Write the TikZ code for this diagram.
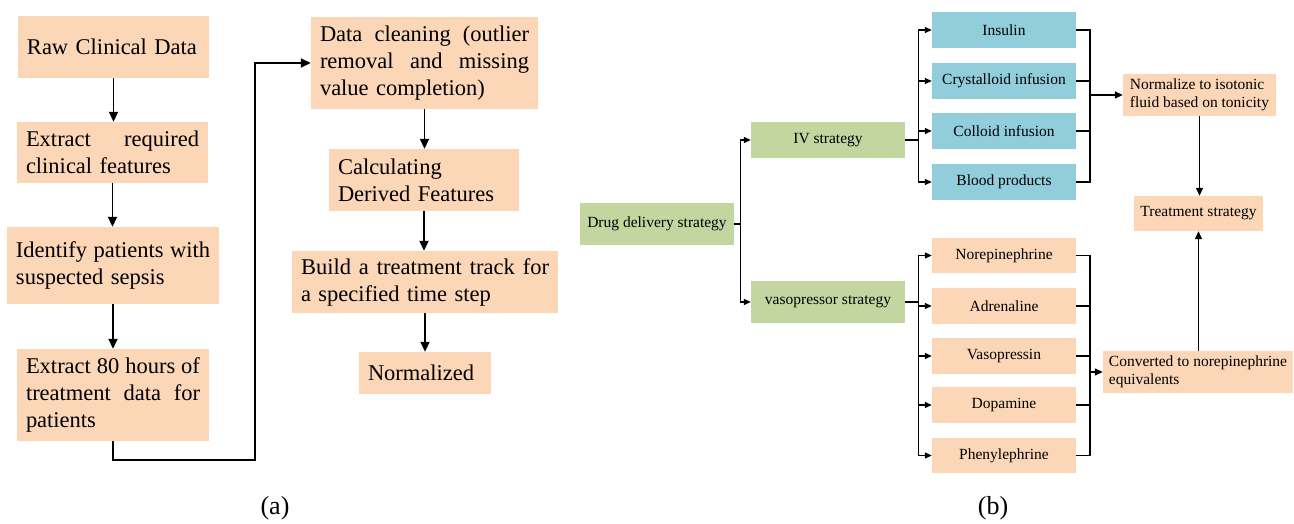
\documentclass[tikz,border=0pt]{standalone}
\usepackage{fontspec}
\setmainfont{Liberation Serif}
\usetikzlibrary{arrows.meta}
\definecolor{peach}{RGB}{251,214,183}
\definecolor{olive}{RGB}{195,214,160}
\definecolor{aqua}{RGB}{146,205,220}
\newcommand\lfont{\fontsize{22.5}{27}\selectfont}
\newcommand\rfont{\fontsize{15.5}{18}\selectfont}
\begin{document}
\begin{tikzpicture}[x=1pt,y=-1pt,
  lbox/.style={fill=peach, font=\lfont, align=left, inner xsep=9pt, inner ysep=0pt},
  rbox/.style={font=\rfont, inner sep=0pt, minimum width=144pt, align=center},
  larr/.style={line width=1.8pt, -{Triangle[length=10pt,width=9pt]}},
  rarr/.style={line width=1.3pt, -{Triangle[length=7pt,width=6pt]}},
  rline/.style={line width=1.3pt},
  rarrb/.style={line width=1.3pt, -{Triangle[length=8pt,width=7pt]}}]
\useasboundingbox (0,0) rectangle (1294,524);
% ---------- (a) ----------
\node[lbox, text width=173pt, minimum height=62pt] (raw) at (113.5,47) {Raw Clinical Data};
\node[lbox, text width=173pt, minimum height=61pt] (extr) at (112.5,152.5) {Extract\hfill required\\clinical features};
\node[lbox, text width=194pt, minimum height=77pt] (ident) at (113,265.5) {Identify\hfill patients\hfill with\\suspected sepsis};
\node[lbox, text width=174pt, minimum height=92pt] (ext80) at (113,395) {Extract\hfill 80\hfill hours\hfill of\\treatment\hfill data\hfill for\\patients};
\node[lbox, text width=209pt, minimum height=92pt] (clean) at (424.5,63) {Data\hfill cleaning\hfill (outlier\\removal\hfill and\hfill missing\\value completion)};
\node[lbox, text width=172pt, minimum height=62pt] (calc) at (424,180) {Calculating\\Derived Features};
\node[lbox, text width=248pt, minimum height=62pt] (build) at (425,282) {Build\hfill a\hfill treatment\hfill track\hfill for\\a specified time step};
\node[lbox, text width=114pt, minimum height=42pt] (norm) at (425,373) {Normalized};
\coordinate (turn) at (255,460);
\draw[larr] (raw.south) -- (raw.south |- extr.north);
\draw[larr] (extr.south) -- (extr.south |- ident.north);
\draw[larr] (ident.south) -- (ident.south |- ext80.north);
\draw[larr] (ext80.south) |- (turn) |- (clean.west);
\draw[larr] (clean.south) -- (clean.south |- calc.north);
\draw[larr] (calc.south) -- (calc.south |- build.north);
\draw[larr] (build.south) -- (build.south |- norm.north);
\node[font=\fontsize{26}{30}\selectfont] (la) at (275,508) {(a)};
% ---------- (b) ----------
\node[rbox, fill=olive, minimum width=154pt, minimum height=42pt] (drug) at (657,224) {Drug delivery strategy};
\node[rbox, fill=olive, minimum width=154pt, minimum height=36pt] (iv) at (828,140) {IV strategy};
\node[rbox, fill=olive, minimum width=154pt, minimum height=42pt] (vaso) at (828,302) {vasopressor strategy};
\node[rbox, fill=aqua, minimum height=36pt] (ins) at (1004,30) {Insulin};
\node[rbox, fill=aqua, minimum height=36pt] (cry) at (1004,81) {Crystalloid infusion};
\node[rbox, fill=aqua, minimum height=36pt] (col) at (1004,131) {Colloid infusion};
\node[rbox, fill=aqua, minimum height=36pt] (blo) at (1004,182) {Blood products};
\node[rbox, fill=peach, minimum height=35pt] (nor) at (1004,255.5) {Norepinephrine};
\node[rbox, fill=peach, minimum height=36pt] (adr) at (1004,306) {Adrenaline};
\node[rbox, fill=peach, minimum height=36pt] (vsp) at (1004,356) {Vasopressin};
\node[rbox, fill=peach, minimum height=36pt] (dop) at (1004,405) {Dopamine};
\node[rbox, fill=peach, minimum height=35pt] (phe) at (1004,455.5) {Phenylephrine};
\node[fill=peach, font=\rfont, align=left, inner sep=0pt, minimum width=153pt, minimum height=42pt] (normz) at (1199.5,95) {Normalize to isotonic\\fluid based on tonicity};
\node[fill=peach, font=\rfont, inner sep=0pt, minimum width=129pt, minimum height=35pt] (treat) at (1198.5,213.5) {Treatment strategy};
\node[fill=peach, font=\rfont, align=left, inner sep=0pt, minimum width=190pt, minimum height=42pt] (conv) at (1198,372) {Converted to norepinephrine\\equivalents};
\draw[rarr] (drug.east) -- ++(6,0) |- (iv.west);
\draw[rarr] (drug.east) -- ++(6,0) |- (vaso.west);
\foreach \n in {ins,cry,col,blo} {\draw[rarr] (iv.east) -- ++(13,0) |- (\n.west);}
\foreach \n in {nor,adr,vsp,dop,phe} {\draw[rarr] (vaso.east) -- ++(13,0) |- (\n.west);}
\coordinate (c1) at (1090,95);
\coordinate (c2) at (1090,372);
\foreach \n in {ins,cry,col,blo} {\draw[rline] (\n.east) -| (c1);}
\foreach \n in {nor,adr,vsp,dop,phe} {\draw[rline] (\n.east) -| (c2);}
\draw[rarrb] (c1) -- (normz.west);
\draw[rarrb] (c2) -- (conv.west);
\draw[rarrb] (normz.south) -- (normz.south |- treat.north);
\draw[rarrb] (conv.north -| treat.south) -- (treat.south);
\node[font=\fontsize{26}{30}\selectfont] (lb) at (993,508) {(b)};
\end{tikzpicture}
\end{document}
